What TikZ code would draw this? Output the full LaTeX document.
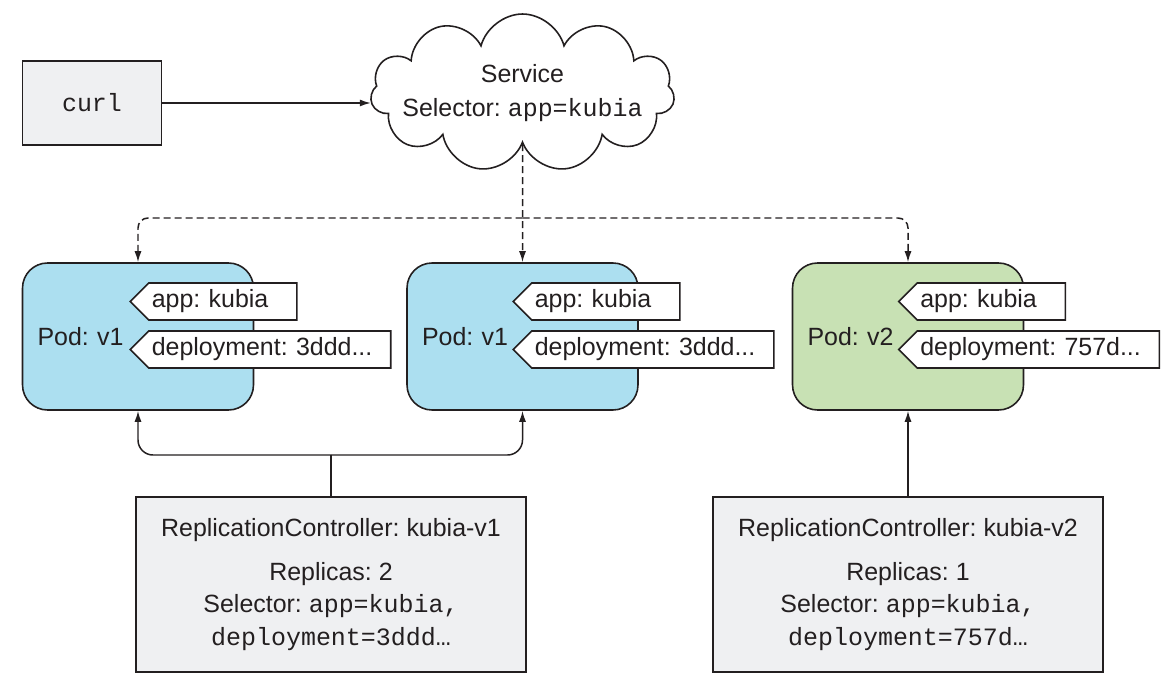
\documentclass[tikz,border=0pt]{standalone}
\usepackage{fontspec}
\setmainfont{Liberation Sans}
\setmonofont{Liberation Mono}
\usetikzlibrary{positioning,shapes.symbols,arrows.meta,calc}

\definecolor{inkgray}{HTML}{231F20}
\definecolor{boxgray}{HTML}{EFF0F2}
\definecolor{podblue}{HTML}{ACDFF0}
\definecolor{podgreen}{HTML}{C8E1B4}

\begin{document}
\frenchspacing
\begin{tikzpicture}[
    x=0.02cm, y=-0.02cm,
    font=\fontsize{14.2}{18.7}\selectfont,
    text=inkgray,
    graybox/.style={draw=inkgray, line width=0.9pt, fill=boxgray, align=center},
    pod/.style={draw=inkgray, line width=0.9pt, rounded corners=0.5cm, minimum width=4.62cm, minimum height=2.94cm, text width=4.02cm, inner xsep=0.3cm, align=left},
    tag/.style={signal, signal to=west, signal pointer angle=90, draw=inkgray, line width=0.9pt, fill=white, minimum height=0.74cm, inner ysep=0pt, inner xsep=0.06cm, align=left, anchor=west},
    link/.style={draw=inkgray, line width=0.85pt, -{Latex[length=0.22cm, width=0.14cm]}},
    route/.style={link, dash pattern=on 0.14cm off 0.08cm, rounded corners=0.2cm},
]

\useasboundingbox (0,0) rectangle (1172,692);

% === Client and service ===
\node[graybox, minimum width=2.78cm, minimum height=1.68cm] (curl) at (92,103) {\texttt{curl}};
\node[cloud, cloud puffs=11, cloud ignores aspect, draw=inkgray, line width=0.9pt, fill=white, minimum width=5.5cm, minimum height=3.16cm, inner xsep=-0.29cm, inner ysep=0pt, align=center, font=\fontsize{14.2}{19.3}\selectfont] (svc) at (522.5,93) {Service\\Selector: \texttt{app=kubia}};

% === Pods ===
\node[pod, fill=podblue] (pod1) at (138,336.5) {Pod: v1};
\node[pod, fill=podblue] (pod2) at (522.5,336.5) {Pod: v1};
\node[pod, fill=podgreen] (pod3) at (908,336.5) {Pod: v2};

% Labels on the pods
\node[tag, text width=2.84cm] (app1) at ([xshift=2.15cm, yshift=0.7cm]pod1.west) {app: kubia};
\node[tag, text width=4.72cm] (dep1) at ([xshift=2.15cm, yshift=-0.26cm]pod1.west) {deployment: 3ddd...};
\node[tag, text width=2.84cm] (app2) at ([xshift=2.12cm, yshift=0.7cm]pod2.west) {app: kubia};
\node[tag, text width=4.72cm] (dep2) at ([xshift=2.12cm, yshift=-0.26cm]pod2.west) {deployment: 3ddd...};
\node[tag, text width=2.84cm] (app3) at ([xshift=2.12cm, yshift=0.7cm]pod3.west) {app: kubia};
\node[tag, text width=4.72cm] (dep3) at ([xshift=2.12cm, yshift=-0.26cm]pod3.west) {deployment: 757d...};

% === Replication controllers ===
\node[graybox, minimum width=7.8cm, minimum height=3.5cm] (rc1) at (331,584.5) {ReplicationController: kubia-v1\\[0.22cm] Replicas: 2\\ Selector: \texttt{app=kubia,}\\ \texttt{deployment=3ddd…}};
\node[graybox, minimum width=7.8cm, minimum height=3.5cm] (rc2) at (908,584.5) {ReplicationController: kubia-v2\\[0.22cm] Replicas: 1\\ Selector: \texttt{app=kubia,}\\ \texttt{deployment=757d…}};

% === Connectors ===
\draw[link] (curl.east) -- (curl.east -| svc.west);

% service to pods
\coordinate (fan) at (svc.south |- 0,218);
\draw[route] (svc.south) -- (pod2.north);
\draw[route] (fan) -| (pod1.north);
\draw[route] (fan) -| (pod3.north);

% controllers to pods
\coordinate (join1) at (rc1.north |- 0,455);
\draw[draw=inkgray, line width=0.85pt] (rc1.north) -- (join1);
\draw[link, rounded corners=0.3cm] (join1) -| (pod1.south);
\draw[link, rounded corners=0.3cm] (join1) -| (pod2.south);
\draw[link] (rc2.north) -- (pod3.south);

\end{tikzpicture}
\end{document}
